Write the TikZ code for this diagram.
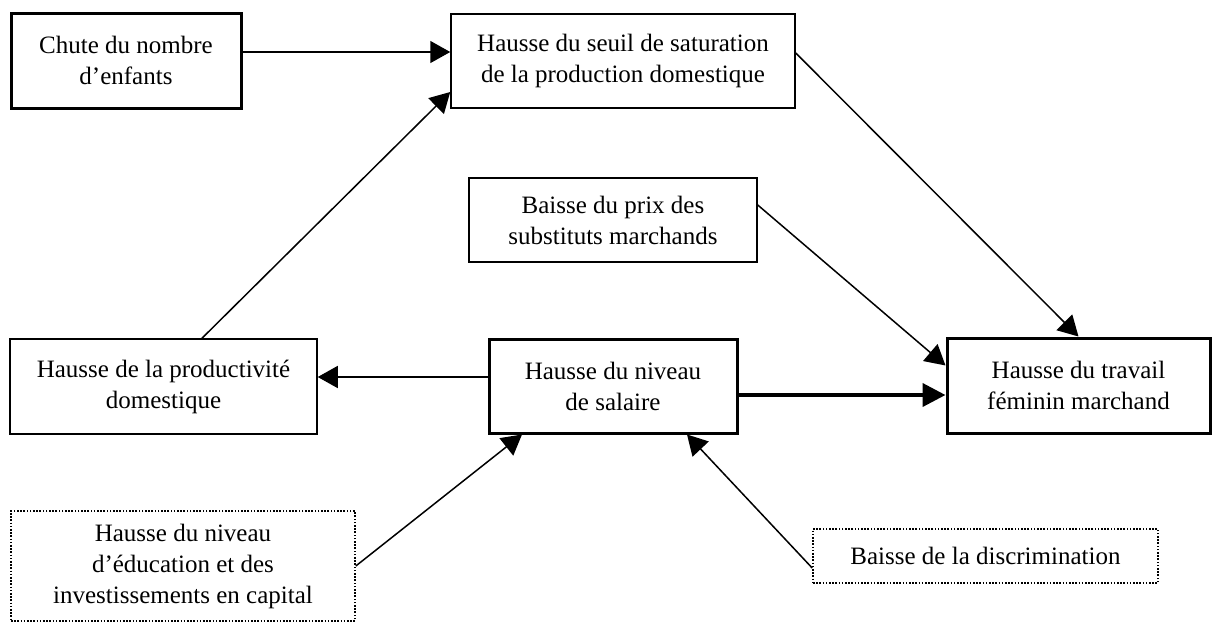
\documentclass[tikz,border=0pt]{standalone}
\usepackage{fontspec}
\setmainfont{Liberation Serif}
\usetikzlibrary{arrows.meta}

\begin{document}
\begin{tikzpicture}[x=0.5pt,y=-0.5pt,
	box/.style={draw,line width=0.75pt,align=center,inner sep=0pt,font=\fontsize{12.5pt}{15.5pt}\selectfont},
	boldbox/.style={box,line width=1.5pt},
	dotbox/.style={box,line width=0.8pt,dash pattern=on 0.8pt off 0.8pt},
	arr/.style={-{Triangle[length=10pt,width=11pt]},line width=0.75pt},
	boldarr/.style={-{Triangle[length=11.5pt,width=11.5pt]},line width=2pt}]
	\useasboundingbox (0,0) rectangle (1212,622);
	\node[boldbox,minimum width=115pt,minimum height=47.5pt] (enfants) at (126,60.5) {Chute du nombre\\d'enfants};
	\node[box,minimum width=172pt,minimum height=47pt] (seuil) at (623,61) {Hausse du seuil de saturation\\de la production domestique};
	\node[box,minimum width=144pt,minimum height=42pt] (prix) at (613,220) {Baisse du prix des\\substituts marchands};
	\node[box,minimum width=153.5pt,minimum height=47.5pt] (productivite) at (163.5,386.5) {Hausse de la productivité\\domestique};
	\node[boldbox,minimum width=124pt,minimum height=47pt] (salaire) at (613,386) {Hausse du niveau\\de salaire};
	\node[boldbox,minimum width=131.5pt,minimum height=47.5pt] (travail) at (1078.5,385.5) {Hausse du travail\\féminin marchand};
	\node[dotbox,minimum width=172pt,minimum height=55pt] (education) at (183,566) {Hausse du niveau\\d'éducation et des\\investissements en capital};
	\node[dotbox,minimum width=172.5pt,minimum height=27pt] (discrim) at (985.5,556) {Baisse de la discrimination};
	\draw[arr] ([yshift=4.25pt]enfants.east) -- ([yshift=4.5pt]seuil.west);
	\draw[arr] ([xshift=19.25pt]productivite.north) -- ([yshift=-15.5pt]seuil.west);
	\draw[arr] ([yshift=4pt]seuil.east) -- (travail.north);
	\draw[arr] ([yshift=7.5pt]prix.east) -- ([yshift=10pt]travail.west);
	\draw[boldarr] ([yshift=-4.5pt]salaire.east) -- ([yshift=-4.75pt]travail.west);
	\draw[arr] ([yshift=4.5pt]salaire.west) -- ([yshift=4.75pt]productivite.east);
	\draw[arr] (education.east) -- ([xshift=-45.5pt]salaire.south);
	\draw[arr] ([yshift=-6pt]discrim.west) -- ([xshift=37pt]salaire.south);
\end{tikzpicture}
\end{document}
